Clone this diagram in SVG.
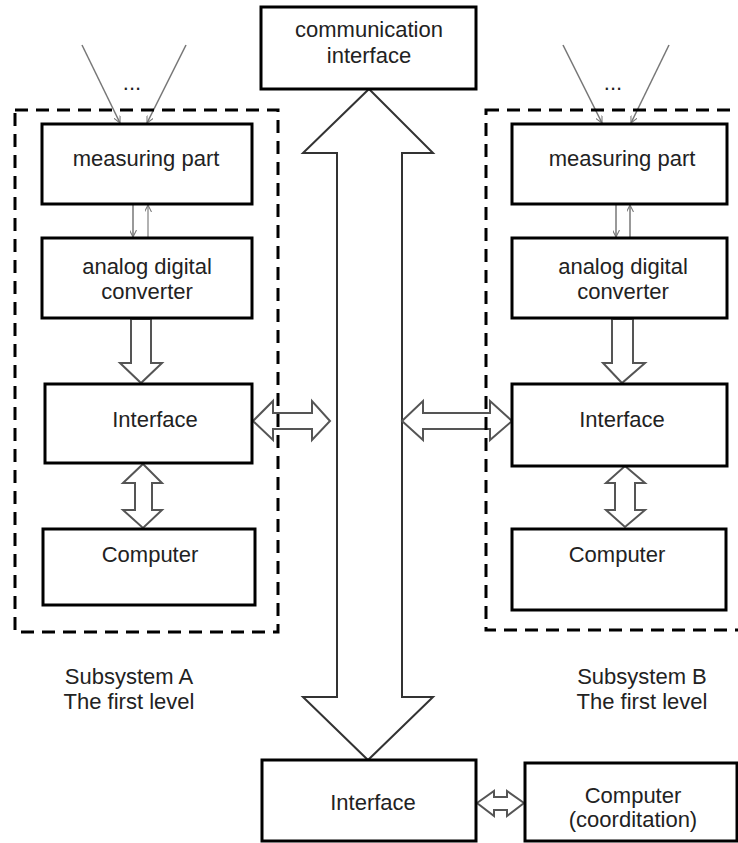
<svg xmlns="http://www.w3.org/2000/svg" width="738" height="843" viewBox="0 0 738 843">
<style>
.box{fill:#fff;stroke:#000;stroke-width:3}
.dash{fill:none;stroke:#000;stroke-width:3;stroke-dasharray:13 8}
.big{fill:#fff;stroke:#333;stroke-width:2;stroke-linejoin:miter}
.blk{fill:#fff;stroke:#555;stroke-width:2;stroke-linejoin:miter}
.thin{fill:none;stroke:#777;stroke-width:1.5}
.thin2{fill:none;stroke:#999;stroke-width:1.5}
text{font-family:"Liberation Sans",Arial,sans-serif;font-size:22px;fill:#222;text-anchor:middle}
</style>
<defs>
<marker id="ah" viewBox="0 0 10 10" refX="10" refY="5" markerWidth="7" markerHeight="7" orient="auto" markerUnits="userSpaceOnUse">
<path d="M0,0 L10,5 L0,10" fill="none" stroke="#777" stroke-width="1.5"/>
</marker>
</defs>
<g id="connectors">
<line class="thin" x1="82" y1="45" x2="120" y2="123" marker-end="url(#ah)"/>
<line class="thin" x1="186" y1="45" x2="147" y2="123" marker-end="url(#ah)"/>
<line class="thin" x1="563" y1="45" x2="602" y2="123" marker-end="url(#ah)"/>
<line class="thin" x1="669" y1="45" x2="631" y2="123" marker-end="url(#ah)"/>
<line class="thin" x1="133" y1="204" x2="133" y2="237" marker-end="url(#ah)"/>
<line class="thin2" x1="148" y1="238" x2="148" y2="205" marker-end="url(#ah)"/>
<line class="thin" x1="616" y1="204" x2="616" y2="237" marker-end="url(#ah)"/>
<line class="thin" x1="630" y1="238" x2="630" y2="205" marker-end="url(#ah)"/>
<polygon class="big" points="369,89 433,153 402,153 402,697 433,697 368,760 303,697 337,697 337,153 303,153"/>
<polygon class="blk" points="131,319 151,319 151,363 162,363 141,383 120,363 131,363"/>
<polygon class="blk" points="612,319 633,319 633,363 645,363 622,383 603,363 612,363"/>
<polygon class="blk" points="143,464 162,483 152,483 152,510 162,510 143,528 123,510 135,510 135,483 123,483"/>
<polygon class="blk" points="625,466 645,483 635,483 635,510 645,510 625,527 606,510 615,510 615,483 606,483"/>
<polygon class="blk" points="253,421 273,401 273,413 312,413 312,401 330,421 312,440 312,429 273,429 273,440"/>
<polygon class="blk" points="402,421 423,401 423,413 490,413 490,401 512,421 490,440 490,429 423,429 423,440"/>
<polygon class="blk" points="477,803 494,791 494,797 507,797 507,791 524,803 507,816 507,810 494,810 494,816"/>
</g>
<g id="subsystemA">
<rect class="dash" x="15" y="110" width="263" height="522"/>
<text x="129" y="684">Subsystem A</text>
<text x="129" y="709">The first level</text>
<text x="132" y="90">...</text>
</g>
<g id="subsystemB">
<rect class="dash" x="486" y="110" width="270" height="520"/>
<text x="642" y="684">Subsystem B</text>
<text x="642" y="709">The first level</text>
<text x="613" y="90">...</text>
</g>
<g id="comm">
<rect class="box" x="261" y="7" width="215" height="82"/>
<text x="369" y="37">communication</text>
<text x="369" y="63">interface</text>
</g>
<g id="measA">
<rect class="box" x="42" y="124" width="210" height="80"/>
<text x="146" y="166">measuring part</text>
</g>
<g id="adcA">
<rect class="box" x="42" y="238" width="210" height="80"/>
<text x="147" y="274">analog digital</text>
<text x="147" y="299">converter</text>
</g>
<g id="ifaceA">
<rect class="box" x="45" y="384" width="207" height="79"/>
<text x="155" y="427">Interface</text>
</g>
<g id="compA">
<rect class="box" x="43" y="529" width="212" height="76"/>
<text x="150" y="562">Computer</text>
</g>
<g id="measB">
<rect class="box" x="512" y="124" width="215" height="80"/>
<text x="622" y="166">measuring part</text>
</g>
<g id="adcB">
<rect class="box" x="512" y="238" width="215" height="80"/>
<text x="623" y="274">analog digital</text>
<text x="623" y="299">converter</text>
</g>
<g id="ifaceB">
<rect class="box" x="512" y="384" width="215" height="82"/>
<text x="622" y="427">Interface</text>
</g>
<g id="compB">
<rect class="box" x="512" y="529" width="214" height="81"/>
<text x="617" y="562">Computer</text>
</g>
<g id="ifaceMain">
<rect class="box" x="262" y="760" width="214" height="81"/>
<text x="373" y="810">Interface</text>
</g>
<g id="compMain">
<rect class="box" x="525" y="763" width="212" height="78"/>
<text x="633" y="803">Computer</text>
<text x="633" y="827">(coorditation)</text>
</g>
</svg>
